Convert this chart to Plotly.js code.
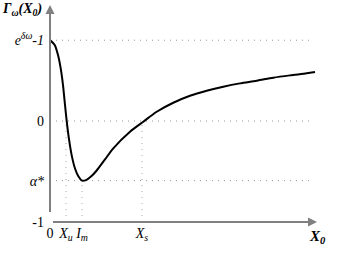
<!DOCTYPE html>
<html>
<head>
<meta charset="utf-8">
<script src="https://cdn.plot.ly/plotly-3.0.1.min.js"></script>
<style>html,body{margin:0;padding:0;background:#fff;}#chart{width:348px;height:254px;}</style>
</head>
<body>
<div id="chart"></div>
<script>
// Curve samples (x0, Gamma)
const curveX = [0, 4.7, 8, 10.7, 13, 15, 16.7, 19, 21.7, 25, 28.5, 32, 36, 41, 46.7, 55, 63.3, 80, 93.3, 106.7, 123.3, 140, 156.7, 173.3, 190, 206.7, 223.3, 240, 256.7, 265];
const curveY = [0.802, 0.753, 0.653, 0.521, 0.356, 0.16, 0.0, -0.18, -0.34, -0.47, -0.55, -0.59, -0.585, -0.55, -0.49, -0.38, -0.27, -0.106, -0.007, 0.092, 0.181, 0.250, 0.300, 0.340, 0.373, 0.399, 0.429, 0.452, 0.472, 0.485];

// Special levels
const yTickVals = [-1, -0.59, 0, 0.80];
const yTickText = ['-1', '<i>α*</i>', '0', '<i>e</i><sup><i>δω</i></sup><i>-1</i>'];
const xTickVals = [0, 16, 32, 92];
const xTickText = ['0', '<i>X<sub>u</sub></i>', '<i>I<sub>m</sub></i>', '<i>X<sub>s</sub></i>'];

// guide lines
const hGuideLevels = [0.80, 0, -0.59];
const hGuideEnd = 263;
const vGuideX = [16, 32, 92];
const vGuideTop = [0, -0.59, 0];

const xMin = 0, xMax = 270, yMin = -1, yMax = 1.149;

const traces = [];
hGuideLevels.forEach(v => traces.push({
  x: [xMin, hGuideEnd], y: [v, v], mode: 'lines', hoverinfo: 'skip',
  line: {color: '#999', width: 1, dash: '1px,5px'}, showlegend: false
}));
vGuideX.forEach((v, i) => traces.push({
  x: [v, v], y: [yMin, vGuideTop[i]], mode: 'lines', hoverinfo: 'skip',
  line: {color: '#aaa', width: 1, dash: '1px,5px'}, showlegend: false
}));
traces.push({
  x: curveX, y: curveY, mode: 'lines', showlegend: false, cliponaxis: false,
  line: {color: '#000', width: 2, shape: 'spline', smoothing: 0.8}
});

const fnt = {family: 'Liberation Serif, Times New Roman, serif', size: 14, color: '#000'};

const layout = {
  width: 348, height: 254,
  margin: {l: 50, r: 28, t: 5, b: 32},
  paper_bgcolor: '#fff', plot_bgcolor: '#fff',
  showlegend: false,
  xaxis: {range: [xMin, xMax], showgrid: false, zeroline: false, showline: false,
    tickvals: xTickVals, ticktext: xTickText, ticks: '', tickfont: fnt, ticklabelstandoff: 1},
  yaxis: {range: [yMin, yMax], showgrid: false, zeroline: false, showline: false,
    tickvals: yTickVals, ticktext: yTickText, ticks: '', tickfont: fnt, ticklabelstandoff: 5},
  annotations: [
    {x: xMin, y: yMax, ax: xMin, ay: yMin, xref: 'x', yref: 'y', axref: 'x', ayref: 'y',
     text: ' ', showarrow: true, arrowhead: 2, arrowsize: 0.9, arrowwidth: 2, arrowcolor: '#808080'},
    {x: 267, y: yMin, ax: xMin, ay: yMin, xref: 'x', yref: 'y', axref: 'x', ayref: 'y',
     text: ' ', showarrow: true, arrowhead: 2, arrowsize: 0.9, arrowwidth: 2, arrowcolor: '#808080'},
    {xref: 'paper', yref: 'paper', x: (317 - 50) / 270, y: -(237 - 222) / 217,
     xanchor: 'center', yanchor: 'middle', showarrow: false,
     text: '<b><i>X<sub>0</sub></i></b>', font: {family: fnt.family, size: 15, color: '#000'}},
    {xref: 'paper', yref: 'paper', x: -50 / 270, y: 1 - 4 / 217,
     xanchor: 'left', yanchor: 'middle', showarrow: false,
     text: '<b><i>Γ<sub>ω</sub>(X<sub>0</sub>)</i></b>', font: {family: fnt.family, size: 14, color: '#000'}}
  ]
};

Plotly.newPlot('chart', traces, layout, {displayModeBar: false, staticPlot: true});
</script>
</body>
</html>
